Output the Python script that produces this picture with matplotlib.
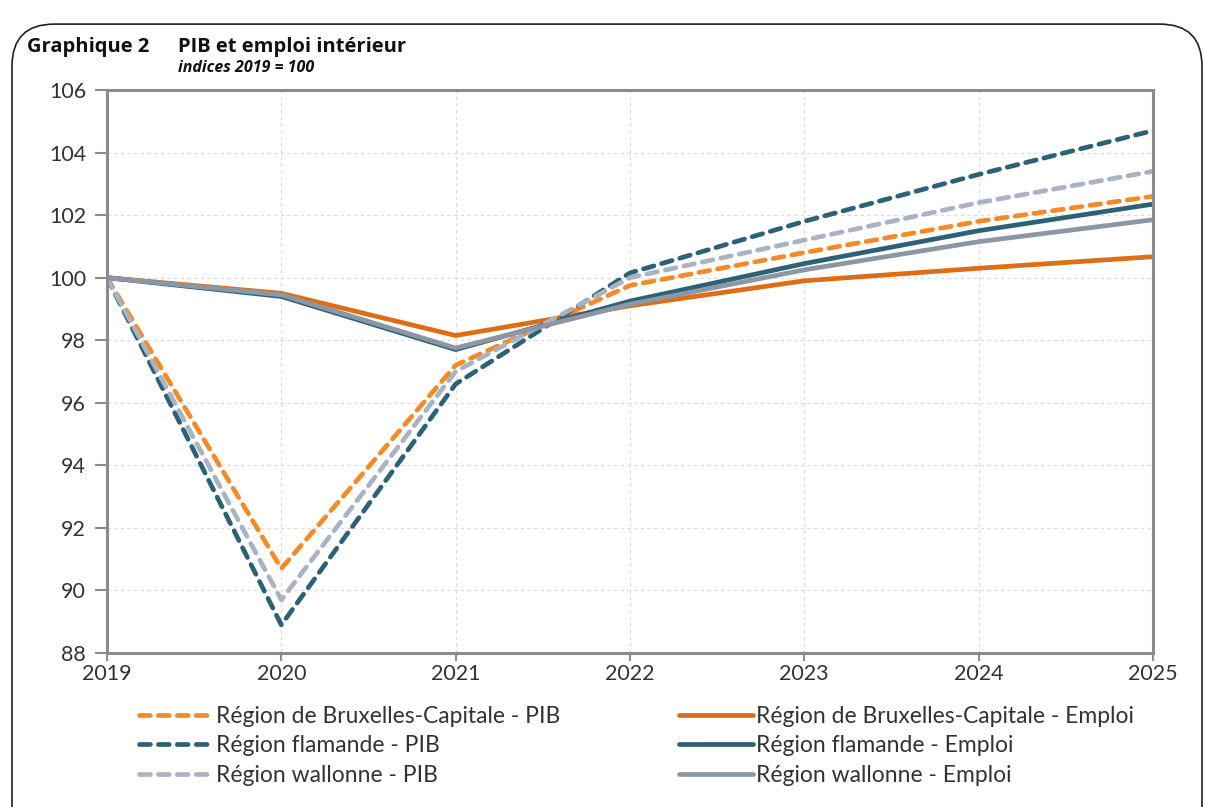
import matplotlib.pyplot as plt
from matplotlib.patches import FancyBboxPatch

years = [2019, 2020, 2021, 2022, 2023, 2024, 2025]

bxl_pib = [100, 90.7, 97.2, 99.75, 100.8, 101.8, 102.6]
fla_pib = [100, 88.9, 96.6, 100.15, 101.8, 103.3, 104.7]
wal_pib = [100, 89.7, 97.0, 100.0, 101.2, 102.4, 103.4]
bxl_emp = [100, 99.5, 98.15, 99.1, 99.9, 100.3, 100.67]
fla_emp = [100, 99.4, 97.7, 99.25, 100.45, 101.5, 102.35]
wal_emp = [100, 99.45, 97.75, 99.15, 100.25, 101.15, 101.85]

labels = ["Région de Bruxelles-Capitale - PIB", "Région de Bruxelles-Capitale - Emploi",
          "Région flamande - PIB", "Région flamande - Emploi",
          "Région wallonne - PIB", "Région wallonne - Emploi"]

plt.rcParams['font.family'] = ['Lato', 'DejaVu Sans']

fig = plt.figure(figsize=(12.06, 8.07), dpi=100)
ax = fig.add_axes([0.0887, 0.1908, 0.8673, 0.6977])

# rounded frame around the whole chart
frame = FancyBboxPatch((12 / 1206, -0.05), 1190 / 1206, 1.035 - 12 / 807,
                       boxstyle="round,pad=0,rounding_size=0.035",
                       transform=fig.transFigure, fill=False,
                       edgecolor="#222222", linewidth=1.2, mutation_aspect=1206 / 807)
fig.patches.append(frame)

c_bxl_pib = "#F58A28"
c_bxl_emp = "#DD6E16"
c_fla = "#2C6177"
c_wal_pib = "#A9B3C1"
c_wal_emp = "#8D97A4"

lw = 3.4
dash = dict(linestyle=(0, (2.3, 1.7)), dash_capstyle="round")
series = [
    (bxl_pib, c_bxl_pib, True),
    (bxl_emp, c_bxl_emp, False),
    (fla_pib, c_fla, True),
    (fla_emp, c_fla, False),
    (wal_pib, c_wal_pib, True),
    (wal_emp, c_wal_emp, False),
]
handles = []
for (vals, col, dashed), lab in zip(series, labels):
    if dashed:
        h, = ax.plot(years, vals, color=col, lw=lw, label=lab, **dash)
    else:
        h, = ax.plot(years, vals, color=col, lw=lw, label=lab, solid_capstyle="round")
    handles.append(h)

ax.set_xlim(2019, 2025)
ax.set_ylim(88, 106)
ax.set_yticks(range(88, 107, 2))
ax.set_xticks(years)
ax.grid(True, color="#d9d9d9", linestyle=(0, (3, 3)), linewidth=0.8)
for s in ax.spines.values():
    s.set_color("#8c8c8c")
    s.set_linewidth(2.2)
ax.tick_params(axis="y", length=9, width=1.5, color="#8c8c8c", labelsize=15.5,
               labelcolor="#333333", pad=6)
ax.tick_params(axis="x", length=6, width=1.5, color="#8c8c8c", labelsize=15.5,
               labelcolor="#333333", pad=2)

order = [0, 2, 4, 1, 3, 5]
fig.legend([handles[i] for i in order], [labels[i] for i in order],
           ncol=2, loc="upper left", bbox_to_anchor=(0.0984, 0.151),
           frameon=False, fontsize=16.5, handlelength=3.2, handletextpad=0.15,
           columnspacing=5.2, labelspacing=0.37, labelcolor="#333333")

title_font = ["Open Sans", "DejaVu Sans"]
fig.text(27 / 1206, 1 - 47 / 807, "Graphique 2", fontsize=14.5, fontweight="bold",
         family=title_font, va="center", color="#111111")
fig.text(178 / 1206, 1 - 47 / 807, "PIB et emploi intérieur", fontsize=14.5,
         fontweight="bold", family=title_font, va="center", color="#111111")
fig.text(178 / 1206, 1 - 68 / 807, "indices 2019 = 100", fontsize=11.5,
         fontweight="bold", style="italic", family=title_font, va="center",
         color="#111111")

fig.savefig("out.png", dpi=100)
